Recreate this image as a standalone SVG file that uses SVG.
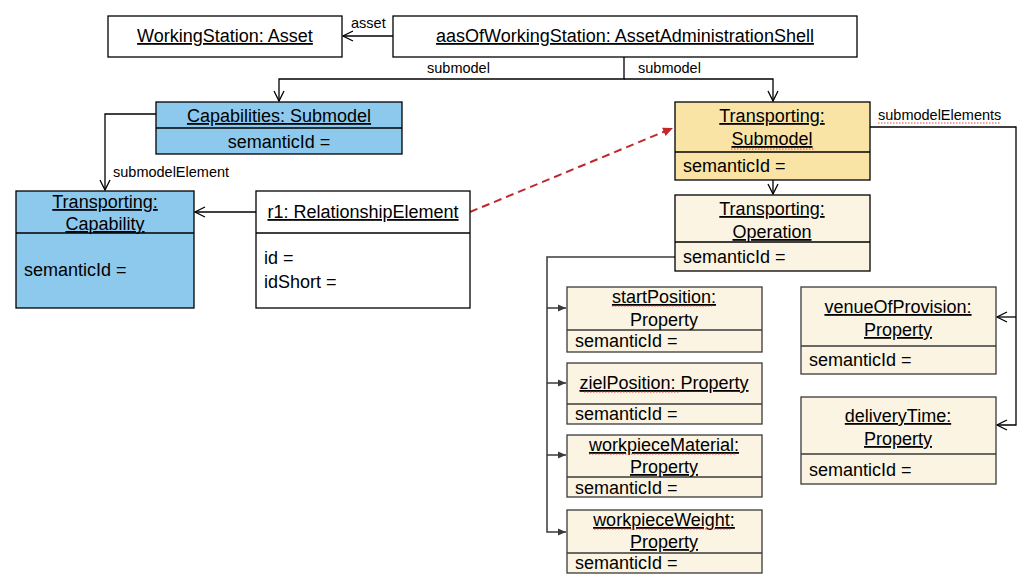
<svg xmlns="http://www.w3.org/2000/svg" width="1028" height="587" viewBox="0 0 1028 587">
<style>
text{font-family:"Liberation Sans",Arial,sans-serif;fill:#000}
.t{font-size:18px}
.u{text-decoration:underline}
.m{text-anchor:middle}
.lbl{font-size:14.5px}
.box{stroke:#000;stroke-width:1.3}
.pbox{stroke:#3a3a3a;stroke-width:1.3}
.blue{fill:#8DC9EC}
.gold{fill:#F9E4A6}
.cream{fill:#FBF4E2}
.white{fill:#fff}
.div{stroke:#000;stroke-width:1.3}
.pdiv{stroke:#3a3a3a;stroke-width:1.5}
.c{fill:none;stroke:#000;stroke-width:1.3}
.g{fill:none;stroke:#3a3a3a;stroke-width:1.5}
.red{fill:none;stroke:#C0282D;stroke-width:2;stroke-dasharray:8 5}
.sp{fill:none;stroke:#E03030;stroke-width:0.9;stroke-dasharray:1.5 1.5}
</style>
<defs>
<marker id="open" markerUnits="userSpaceOnUse" markerWidth="14" markerHeight="14" refX="11" refY="6" orient="auto">
<path d="M1,1 L11,6 L1,11" fill="none" stroke="#000" stroke-width="1.3"/>
</marker>
<marker id="fill" markerUnits="userSpaceOnUse" markerWidth="10" markerHeight="10" refX="8" refY="4" orient="auto">
<path d="M0,0.5 L8,4 L0,7.5 Z" fill="#3a3a3a"/>
</marker>
<marker id="redfill" markerUnits="userSpaceOnUse" markerWidth="12" markerHeight="12" refX="10" refY="5" orient="auto">
<path d="M0,0.5 L10,5 L0,9.5 Z" fill="#C0282D"/>
</marker>
</defs>
<rect width="1028" height="587" fill="#fff"/>

<g id="connectors">
<path class="c" d="M393,36 H343" marker-end="url(#open)"/>
<path class="c" d="M624,57 V79 H279 V101" marker-end="url(#open)"/>
<path class="c" d="M624,79 H773 V101" marker-end="url(#open)"/>
<path class="c" d="M156,114 H105 V190" marker-end="url(#open)"/>
<path class="c" d="M256,212 H195" marker-end="url(#open)"/>
<path class="c" d="M773,180 V194" marker-end="url(#open)"/>
<path class="c" d="M870,127 H1016 V425 H997" marker-end="url(#open)"/>
<path class="c" d="M1016,317 H997" marker-end="url(#open)"/>
<path class="g" d="M675,257 H547 V532 H566" marker-end="url(#fill)"/>
<path class="g" d="M547,308 H566" marker-end="url(#fill)"/>
<path class="g" d="M547,383 H566" marker-end="url(#fill)"/>
<path class="g" d="M547,455 H566" marker-end="url(#fill)"/>
<path class="red" d="M470,212 L673,128" marker-end="url(#redfill)"/>
<text class="lbl" x="351" y="28">asset</text>
<text class="lbl" x="427" y="73">submodel</text>
<text class="lbl" x="638" y="73">submodel</text>
<text class="lbl" x="113" y="177">submodelElement</text>
<text class="lbl" x="878" y="120">submodelElements</text>
<path class="sp" d="M878,123 H1001"/>
</g>

<g id="asset">
<rect class="box white" x="108" y="16" width="234" height="41"/>
<text class="t u m" x="225" y="42">WorkingStation: Asset</text>
</g>

<g id="aas">
<rect class="box white" x="393" y="16" width="464" height="41"/>
<text class="t u m" x="625" y="42">aasOfWorkingStation: AssetAdministrationShell</text>
</g>

<g id="capabilities">
<rect class="box blue" x="156" y="102" width="246" height="52"/>
<line class="div" x1="156" y1="128" x2="402" y2="128"/>
<text class="t u m" x="279" y="122">Capabilities: Submodel</text>
<text class="t m" x="279" y="148">semanticId =</text>
</g>

<g id="capability">
<rect class="box blue" x="16" y="191" width="178" height="117"/>
<line class="div" x1="16" y1="233" x2="194" y2="233"/>
<text class="t u m" x="105" y="208">Transporting:</text>
<text class="t u m" x="105" y="230">Capability</text>
<text class="t" x="24" y="276">semanticId =</text>
</g>

<g id="r1">
<rect class="box white" x="256" y="191" width="214" height="117"/>
<line class="div" x1="256" y1="233" x2="470" y2="233"/>
<text class="t u m" x="363" y="218">r1: RelationshipElement</text>
<text class="t" x="264" y="264">id =</text>
<text class="t" x="264" y="288">idShort =</text>
</g>

<g id="transportingSubmodel">
<rect class="box gold" x="675" y="102" width="195" height="78"/>
<line class="div" x1="675" y1="152" x2="870" y2="152"/>
<text class="t u m" x="772" y="122">Transporting:</text>
<text class="t u m" x="772" y="145">Submodel</text>
<path class="sp" d="M731,149 H814"/>
<text class="t" x="683" y="172">semanticId =</text>
</g>

<g id="operation">
<rect class="box cream" x="675" y="195" width="195" height="76"/>
<line class="div" x1="675" y1="242" x2="870" y2="242"/>
<text class="t u m" x="772" y="215">Transporting:</text>
<text class="t u m" x="772" y="238">Operation</text>
<text class="t" x="683" y="263">semanticId =</text>
</g>

<g id="startPosition">
<rect class="pbox cream" x="567" y="287" width="195" height="65"/>
<line class="pdiv" x1="567" y1="330" x2="762" y2="330"/>
<text class="t u m" x="664" y="303">startPosition:</text>
<path class="sp" d="M612,306 H712"/>
<text class="t m" x="664" y="326">Property</text>
<text class="t" x="575" y="347">semanticId =</text>
</g>

<g id="zielPosition">
<rect class="pbox cream" x="567" y="363" width="195" height="61"/>
<line class="pdiv" x1="567" y1="404" x2="762" y2="404"/>
<text class="t u m" x="664" y="389">zielPosition: Property</text>
<path class="sp" d="M584,392 H679"/>
<text class="t" x="575" y="420">semanticId =</text>
</g>

<g id="workpieceMaterial">
<rect class="pbox cream" x="567" y="435" width="195" height="62"/>
<line class="pdiv" x1="567" y1="477" x2="762" y2="477"/>
<text class="t u m" x="664" y="451">workpieceMaterial:</text>
<path class="sp" d="M589,454 H735"/>
<text class="t u m" x="664" y="473">Property</text>
<text class="t" x="575" y="494">semanticId =</text>
</g>

<g id="workpieceWeight">
<rect class="pbox cream" x="567" y="510" width="195" height="63"/>
<line class="pdiv" x1="567" y1="553" x2="762" y2="553"/>
<text class="t u m" x="664" y="526">workpieceWeight:</text>
<path class="sp" d="M594,529 H731"/>
<text class="t u m" x="664" y="548">Property</text>
<text class="t" x="575" y="569">semanticId =</text>
</g>

<g id="venueOfProvision">
<rect class="pbox cream" x="801" y="287" width="195" height="87"/>
<line class="pdiv" x1="801" y1="346" x2="996" y2="346"/>
<text class="t u m" x="898" y="313">venueOfProvision:</text>
<text class="t u m" x="898" y="336">Property</text>
<text class="t" x="809" y="366">semanticId =</text>
</g>

<g id="deliveryTime">
<rect class="pbox cream" x="801" y="397" width="195" height="87"/>
<line class="pdiv" x1="801" y1="454" x2="996" y2="454"/>
<text class="t u m" x="898" y="422">deliveryTime:</text>
<text class="t u m" x="898" y="445">Property</text>
<text class="t" x="809" y="476">semanticId =</text>
</g>
</svg>
